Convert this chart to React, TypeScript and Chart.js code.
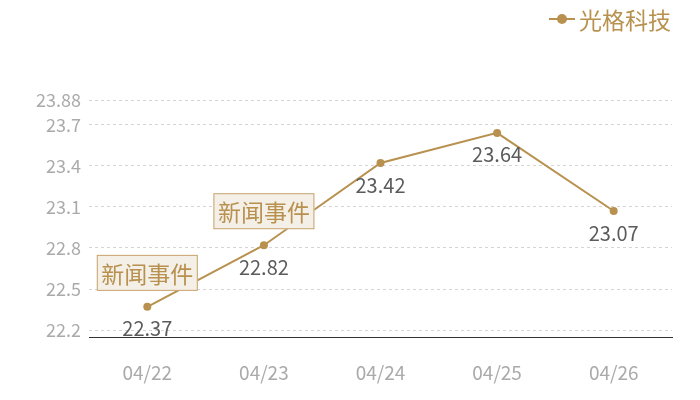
import { useEffect, useRef } from "react";
import { Chart, registerables } from "chart.js";
import type { Plugin } from "chart.js";

Chart.register(...registerables);

const dates = ["04/22", "04/23", "04/24", "04/25", "04/26"];
const prices = [22.37, 22.82, 23.42, 23.64, 23.07];
const yTicks = [22.2, 22.5, 22.8, 23.1, 23.4, 23.7, 23.88];
const yMin = 22.15;
const yMax = 23.88;
const eventIndexes = [0, 1];
const eventText = "新闻事件";
const seriesName = "光格科技";

const GOLD = "#b8914f";
const FONT = "'Noto Sans CJK SC', 'Noto Sans', sans-serif";

// labels under points, event boxes and the legend
const decorations: Plugin<"line"> = {
  id: "decorations",
  afterDatasetsDraw(chart) {
    const { ctx } = chart;
    const meta = chart.getDatasetMeta(0);
    ctx.save();

    ctx.font = `20px ${FONT}`;
    ctx.fillStyle = "#5b5b5b";
    ctx.textAlign = "center";
    ctx.textBaseline = "middle";
    meta.data.forEach((pt, i) => {
      ctx.fillText(prices[i].toFixed(2), pt.x, pt.y + 22);
    });

    eventIndexes.forEach((i) => {
      const pt = meta.data[i];
      const w = 101;
      const h = 36;
      const cx = pt.x;
      const cy = pt.y - 34;
      ctx.fillStyle = "#f4efe7";
      ctx.fillRect(cx - w / 2, cy - h / 2, w, h);
      ctx.strokeStyle = "#c8a46d";
      ctx.lineWidth = 1;
      ctx.strokeRect(cx - w / 2 + 0.5, cy - h / 2 + 0.5, w - 1, h - 1);
      ctx.font = `23px ${FONT}`;
      ctx.fillStyle = GOLD;
      ctx.fillText(eventText, cx, cy + 1);
    });

    // legend
    ctx.strokeStyle = GOLD;
    ctx.lineWidth = 2;
    ctx.beginPath();
    ctx.moveTo(549, 19);
    ctx.lineTo(575, 19);
    ctx.stroke();
    ctx.fillStyle = GOLD;
    ctx.beginPath();
    ctx.arc(562, 19, 5, 0, Math.PI * 2);
    ctx.fill();
    ctx.font = `23px ${FONT}`;
    ctx.textAlign = "left";
    ctx.fillText(seriesName, 579, 20);

    ctx.restore();
  },
};

export default function App() {
  const canvasRef = useRef<HTMLCanvasElement>(null);

  useEffect(() => {
    document.body.style.margin = "0";
    const canvas = canvasRef.current;
    if (!canvas) return;

    const chart = new Chart(canvas, {
      type: "line",
      data: {
        labels: dates,
        datasets: [
          {
            label: seriesName,
            data: prices,
            borderColor: GOLD,
            backgroundColor: GOLD,
            borderWidth: 2,
            pointRadius: 4,
            pointBackgroundColor: GOLD,
            pointBorderWidth: 0,
            tension: 0,
          },
        ],
      },
      options: {
        responsive: false,
        animation: false,
        layout: { padding: { left: 0, right: 28, top: 100, bottom: 0 } },
        plugins: {
          legend: { display: false },
          tooltip: { enabled: false },
        },
        scales: {
          x: {
            offset: true,
            grid: { display: false, drawTicks: false },
            border: { display: true, color: "#333333", width: 1 },
            ticks: {
              color: "#aaaaaa",
              font: { family: FONT, size: 19 },
              padding: 24,
              maxRotation: 0,
            },
            afterFit: (scale) => {
              scale.height = 63;
            },
          },
          y: {
            min: yMin,
            max: yMax,
            grid: { color: "#d4d4d4", drawTicks: false, lineWidth: 1 },
            border: { display: false, dash: [3, 3] },
            ticks: {
              color: "#aaaaaa",
              font: { family: FONT, size: 18 },
              padding: 8,
              callback: (v) => String(v),
            },
            afterBuildTicks: (scale) => {
              scale.ticks = yTicks.map((v) => ({ value: v }));
            },
            afterFit: (scale) => {
              scale.width = 89;
            },
          },
        },
      },
      plugins: [decorations],
    });

    return () => {
      chart.destroy();
    };
  }, []);

  return (
    <div style={{ width: 700, height: 400, background: "#ffffff" }}>
      <canvas ref={canvasRef} width={700} height={400} />
    </div>
  );
}
